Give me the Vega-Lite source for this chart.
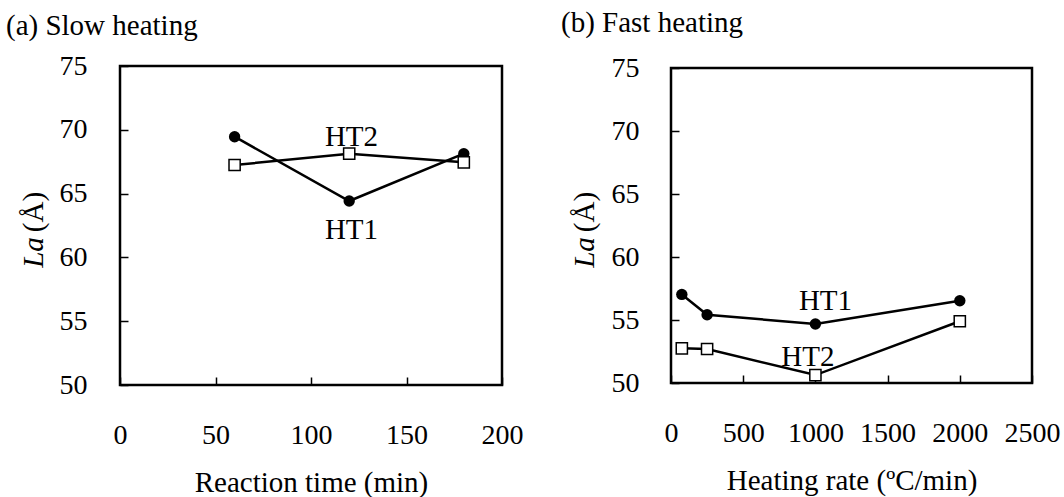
{
  "$schema": "https://vega.github.io/schema/vega-lite/v6.json",
  "padding": {"left": 4, "top": 7, "right": 5, "bottom": 5},
  "background": "white",
  "spacing": 169,
  "bounds": "flush",
  "center": true,
  "config": {
    "font": "Liberation Serif",
    "view": {"stroke": "black", "strokeWidth": 2.5},
    "style": {
      "guide-label": {"font": "Liberation Serif", "fontSize": 28, "fill": "black"},
      "guide-title": {"font": "Liberation Serif", "fontSize": 29, "fontWeight": "normal", "fill": "black"},
      "group-title": {"font": "Liberation Serif", "fontSize": 29, "fontWeight": "normal", "fill": "black"}
    },
    "axis": {
      "domain": false,
      "grid": false,
      "ticks": true,
      "tickSize": -8,
      "tickWidth": 1.5,
      "tickColor": "black",
      "labelFont": "Liberation Serif",
      "labelFontSize": 28,
      "labelColor": "black",
      "labelFlush": false,
      "labelOverlap": false,
      "labelBound": false,
      "titleFont": "Liberation Serif",
      "titleFontSize": 29,
      "titleFontWeight": "normal",
      "titleColor": "black"
    },
    "title": {"font": "Liberation Serif", "fontSize": 29, "fontWeight": "normal", "color": "black"}
  },
  "hconcat": [
    {
      "width": 382,
      "height": 319,
      "title": {"text": "(a) Slow heating", "anchor": "start", "frame": "group", "dx": -114, "offset": 11},
      "data": {
        "values": [
          {"time": 60, "La": 69.46, "series": "HT1"},
          {"time": 120, "La": 64.42, "series": "HT1"},
          {"time": 180, "La": 68.13, "series": "HT1"},
          {"time": 60, "La": 67.24, "series": "HT2"},
          {"time": 120, "La": 68.13, "series": "HT2"},
          {"time": 180, "La": 67.45, "series": "HT2"}
        ]
      },
      "encoding": {
        "x": {
          "field": "time", "type": "quantitative",
          "scale": {"domain": [0, 200], "nice": false, "zero": false},
          "axis": {"values": [0, 50, 100, 150, 200], "format": "d", "title": "Reaction time (min)", "labelPadding": 44, "titlePadding": 19}
        },
        "y": {
          "field": "La", "type": "quantitative",
          "scale": {"domain": [50, 75], "nice": false, "zero": false},
          "axis": {"values": [50, 55, 60, 65, 70, 75], "format": "d", "title": "(Å)", "labelPadding": 41, "titleX": -72, "titleY": 145.5}
        }
      },
      "resolve": {"axis": {"y": "independent"}},
      "layer": [
        {
          "layer": [
            {"mark": {"type": "line", "color": "black", "strokeWidth": 2.5}, "encoding": {"detail": {"field": "series"}}},
            {
              "transform": [{"filter": "datum.series === 'HT1'"}],
              "mark": {"type": "point", "shape": "circle", "filled": true, "color": "black", "size": 130, "opacity": 1}
            },
            {
              "transform": [{"filter": "datum.series === 'HT2'"}],
              "mark": {"type": "point", "shape": "square", "filled": true, "fill": "white", "stroke": "black", "strokeWidth": 1.5, "size": 125, "opacity": 1}
            }
          ]
        },
        {
          "data": {"values": [
            {"time": 121.2, "La": 69.4, "label": "HT2"},
            {"time": 121.2, "La": 62.15, "label": "HT1"}
          ]},
          "mark": {"type": "text", "font": "Liberation Serif", "fontSize": 29, "color": "black", "align": "center", "baseline": "middle"},
          "encoding": {
            "text": {"field": "label"},
            "y": {
              "field": "La", "type": "quantitative",
              "scale": {"domain": [50, 75], "nice": false, "zero": false},
              "axis": {"orient": "left", "title": "La", "titleFontStyle": "italic", "labels": false, "ticks": false, "domain": false, "titleX": -72, "titleY": 186}
            }
          }
        }
      ]
    },
    {
      "width": 361,
      "height": 315,
      "title": {"text": "(b) Fast heating", "anchor": "start", "frame": "group", "dx": -110, "offset": 16},
      "data": {
        "values": [
          {"rate": 75, "La": 57.03, "series": "HT1"},
          {"rate": 250, "La": 55.42, "series": "HT1"},
          {"rate": 1000, "La": 54.68, "series": "HT1"},
          {"rate": 2000, "La": 56.53, "series": "HT1"},
          {"rate": 75, "La": 52.75, "series": "HT2"},
          {"rate": 250, "La": 52.7, "series": "HT2"},
          {"rate": 1000, "La": 50.63, "series": "HT2"},
          {"rate": 2000, "La": 54.9, "series": "HT2"}
        ]
      },
      "encoding": {
        "x": {
          "field": "rate", "type": "quantitative",
          "scale": {"domain": [0, 2500], "nice": false, "zero": false},
          "axis": {"values": [0, 500, 1000, 1500, 2000, 2500], "format": "d", "title": "Heating rate (ºC/min)", "labelPadding": 44, "titlePadding": 19}
        },
        "y": {
          "field": "La", "type": "quantitative",
          "scale": {"domain": [50, 75], "nice": false, "zero": false},
          "axis": {"values": [50, 55, 60, 65, 70, 75], "format": "d", "title": "(Å)", "labelPadding": 40, "titleX": -72, "titleY": 143.5}
        }
      },
      "resolve": {"axis": {"y": "independent"}},
      "layer": [
        {
          "layer": [
            {"mark": {"type": "line", "color": "black", "strokeWidth": 2.5}, "encoding": {"detail": {"field": "series"}}},
            {
              "transform": [{"filter": "datum.series === 'HT1'"}],
              "mark": {"type": "point", "shape": "circle", "filled": true, "color": "black", "size": 130, "opacity": 1}
            },
            {
              "transform": [{"filter": "datum.series === 'HT2'"}],
              "mark": {"type": "point", "shape": "square", "filled": true, "fill": "white", "stroke": "black", "strokeWidth": 1.5, "size": 125, "opacity": 1}
            }
          ]
        },
        {
          "data": {"values": [
            {"rate": 1070, "La": 56.5, "label": "HT1"},
            {"rate": 948, "La": 52.04, "label": "HT2"}
          ]},
          "mark": {"type": "text", "font": "Liberation Serif", "fontSize": 29, "color": "black", "align": "center", "baseline": "middle"},
          "encoding": {
            "text": {"field": "label"},
            "y": {
              "field": "La", "type": "quantitative",
              "scale": {"domain": [50, 75], "nice": false, "zero": false},
              "axis": {"orient": "left", "title": "La", "titleFontStyle": "italic", "labels": false, "ticks": false, "domain": false, "titleX": -72, "titleY": 184}
            }
          }
        }
      ]
    }
  ]
}
